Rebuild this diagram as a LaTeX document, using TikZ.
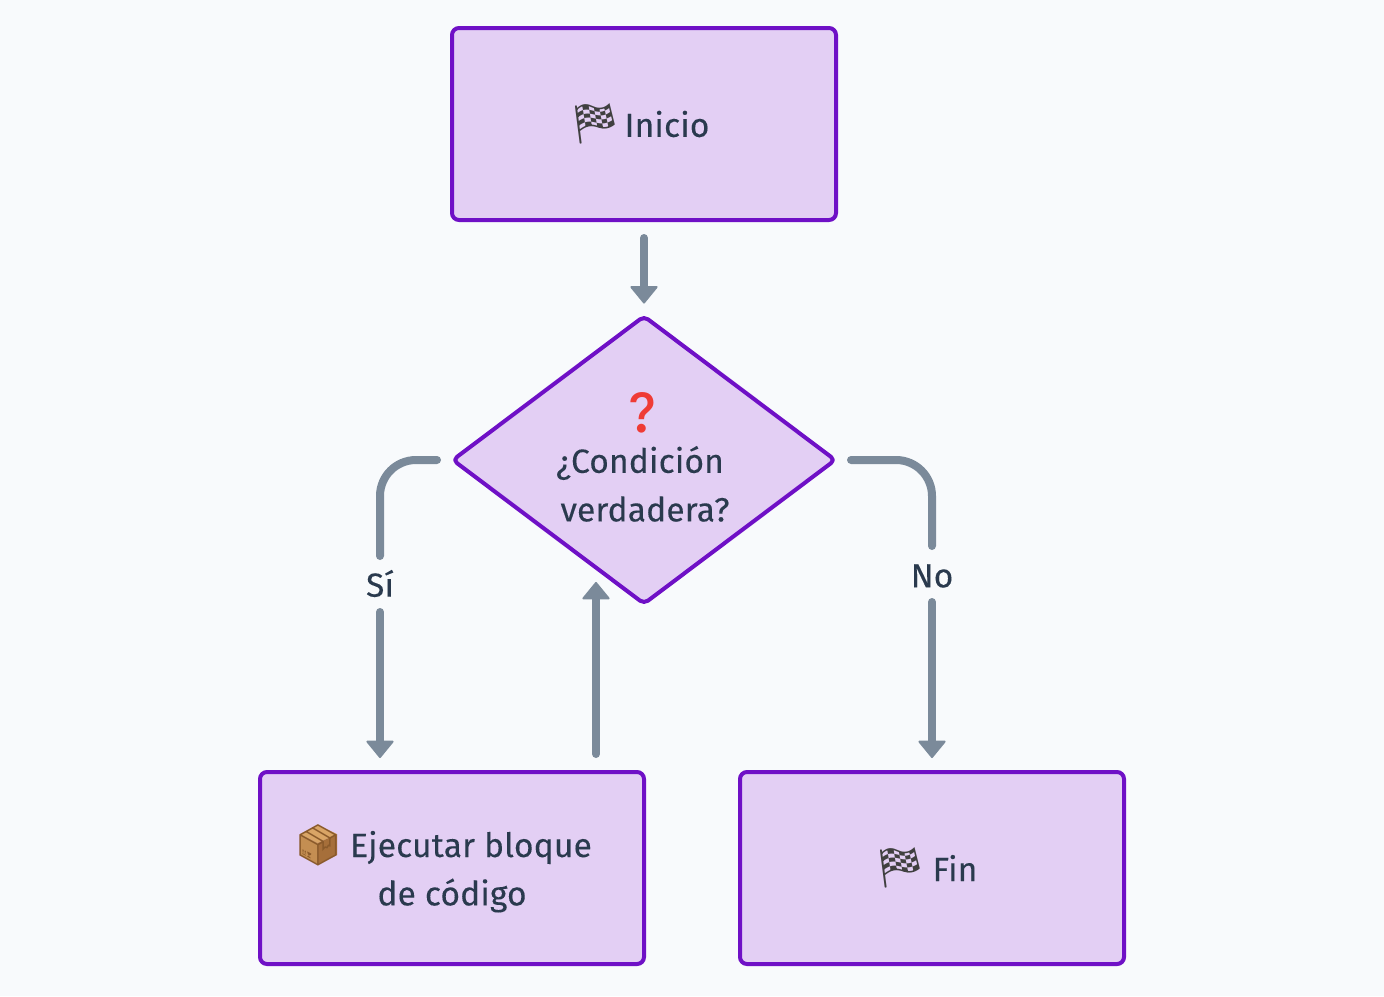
\documentclass[tikz,border=0pt]{standalone}
\usepackage{fontspec}
\setmainfont[LetterSpace=0.5,FakeBold=0.15]{Fira Sans}
\newfontfamily\emojifont{Noto Emoji}
\usetikzlibrary{shapes.geometric,arrows.meta}
\definecolor{bgc}{HTML}{F8FAFC}
\definecolor{boxfill}{HTML}{E3CFF4}
\definecolor{boxline}{HTML}{6F10C6}
\definecolor{txt}{HTML}{2A3A4E}
\definecolor{edge}{HTML}{7B8A9A}
\definecolor{qred}{HTML}{EF3B35}
\definecolor{brownbox}{HTML}{8A5A2B}
\definecolor{boxtop}{HTML}{D9A566}
\definecolor{boxleft}{HTML}{C48E52}
\definecolor{boxright}{HTML}{A66F3A}
\tikzset{
 x=1pt,y=-1pt,
 every node/.style={font=\fontsize{33.5}{48}\selectfont,text=txt,align=center,inner sep=0pt},
 boxnode/.style={draw=boxline,fill=boxfill,line width=4pt,rounded corners=7pt,minimum width=384pt,minimum height=192pt},
 decnode/.style={diamond,draw=boxline,fill=boxfill,line width=4pt,rounded corners=5pt,line join=round,minimum width=384pt,minimum height=289pt,inner sep=0pt},
 conn/.style={draw=edge,line width=8pt,line cap=round,-{Triangle[length=18pt,width=29pt,line width=2pt,round,line cap=round]}},
 plain/.style={draw=edge,line width=8pt,line cap=round},
 elabel/.style={font=\fontsize{33.5}{40}\selectfont},
 emo/.style={font=\emojifont\fontsize{40}{42}\selectfont}
}
\begin{document}
\begin{tikzpicture}
\useasboundingbox (0,0) rectangle (1384,996);
\fill[bgc] (0,0) rectangle (1384,996);
\node[boxnode] (start) at (644,124) {};
\node[decnode] (dec) at (644,460) {};
\node[boxnode] (code) at (452,868) {};
\node[boxnode] (fin) at (932,868) {};
% parcel colours under its glyph
\fill[boxtop] (318,825) -- (337,834) -- (318,843) -- (300,834) -- cycle;
\fill[boxleft] (300,834) -- (318,843) -- (318,864) -- (300,855) -- cycle;
\fill[boxright] (337,834) -- (318,843) -- (318,864) -- (337,855) -- cycle;
% emoji and labels
\node[emo,text=black!75] (e1) at (595,124) {\char"1F3C1};
\node (t1) at (667,124) {Inicio};
\node[emo,text=qred] (e2) at (642,413) {\char"2753};
\node (t2a) at (640,463) {¿Condición};
\node (t2b) at (645,509) {verdadera?};
\node[emo,text=brownbox] (e3) at (318,845) {\char"1F4E6};
\node (t3) at (471,847.5) {Ejecutar bloque};
\node (t4) at (452,895.5) {de código};
\node[emo,text=black!75] (e4) at (900,868) {\char"1F3C1};
\node (t5) at (955,868) {Fin};
\node[elabel] (si) at (380,583.5) {Sí};
\node[elabel] (no) at (932,576) {No};
\coordinate (cl) at (380,460);
\coordinate (cr) at (932,460);
\coordinate (codein) at (380,772);
\coordinate (codeout) at (596,772);
\coordinate (decin) at (596,582);
\coordinate (finin) at (932,772);
% connectors
\draw[conn,shorten <=16pt,shorten >=10pt] (start.south) -- (dec.north);
\draw[plain,rounded corners=36pt,shorten <=13pt] (dec.west) -- (cl) -- ([yshift=27.5pt]si.center);
\draw[conn,shorten >=14pt] ([yshift=-28.5pt]si.center) -- (codein);
\draw[plain,rounded corners=36pt,shorten <=13pt] (dec.east) -- (cr) -- ([yshift=30pt]no.center);
\draw[conn,shorten >=14pt] ([yshift=-26pt]no.center) -- (finin);
\draw[conn,shorten <=18pt] (codeout) -- (decin);
\end{tikzpicture}
\end{document}
